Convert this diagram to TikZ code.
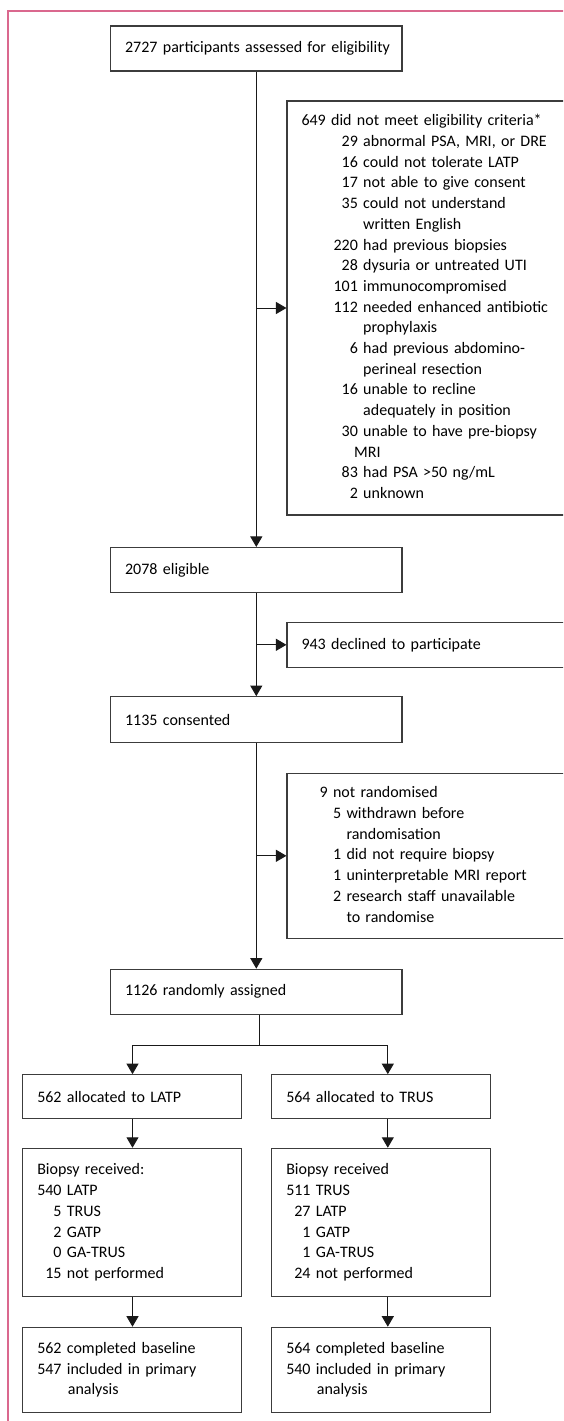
\documentclass[tikz,border=0pt]{standalone}
\usepackage{fontspec}
\setmainfont{Carlito}
\usepackage{array}
\usepackage{xcolor}
\usetikzlibrary{arrows.meta,positioning}
\definecolor{framepink}{RGB}{218,104,142}
\definecolor{boxgray}{RGB}{60,60,60}
\newcolumntype{R}[1]{>{\raggedleft\arraybackslash}p{#1}}

\begin{document}
\begin{tikzpicture}[
    x=1pt, y=-1pt,
    >={Triangle[length=10.5pt,width=12pt]},
    every node/.style={font=\fontsize{16}{20.7}\selectfont},
    mainbox/.style={draw=boxgray, line width=1.1pt, text width=262.4pt, minimum height=45pt, inner xsep=14.5pt, inner ysep=0pt, align=left},
    sidebox/.style={mainbox, text width=259pt},
    armbox/.style={mainbox, text width=189.5pt},
    link/.style={draw=black!90, line width=1pt}
]
\useasboundingbox (0,0) rectangle (563,1421);
\clip (0,0) rectangle (563,1421);

% page frame
\draw[framepink, line width=1.2pt] (8,1430) -- (8,11) -- (575,11);

% screening
\node[mainbox] (assess) at (256.3,48.5) {\mbox{2727 participants assessed for eligibility}};
\node[sidebox, minimum height=414pt] (excl) at (431,308) {%
\begin{tabular}{@{}R{56.4pt}@{\ }l@{}}
\multicolumn{2}{@{}l@{}}{649 did not meet eligibility criteria*}\\
29 & abnormal PSA, MRI, or DRE\\
16 & could not tolerate LATP\\
17 & not able to give consent\\
35 & could not understand\\
 & written English\\
220 & had previous biopsies\\
28 & dysuria or untreated UTI\\
101 & immunocompromised\\
112 & needed enhanced antibiotic\\
 & prophylaxis\\
6 & had previous abdomino-\\
 & perineal resection\\
16 & unable to recline\\
 & adequately in position\\
30 & unable to have pre-biopsy\\
 & \hspace*{-9pt}MRI\\
83 & had PSA >50 ng/mL\\
2 & unknown
\end{tabular}};
\node[mainbox] (elig) at (256.3,570) {2078 eligible};
\node[sidebox] (decl) at (431,644.8) {943 declined to participate};
\node[mainbox, minimum height=46pt] (cons) at (256.3,719.7) {1135 consented};
\node[sidebox, minimum height=165pt] (notr) at (431,855.8) {%
\begin{tabular}{@{}R{39.7pt}@{\ }l@{}}
\multicolumn{2}{@{\hspace*{18.1pt}}l@{}}{9 not randomised}\\
5 & withdrawn before\\
 & randomisation\\
1 & did not require biopsy\\
1 & uninterpretable MRI report\\
2 & research staff unavailable\\
 & to randomise
\end{tabular}};
\node[mainbox] (rand) at (256.3,991.7) {1126 randomly assigned};

% trial arms
\node[armbox, minimum height=44pt] (latp) at (132,1096.7) {562 allocated to LATP};
\node[armbox, minimum height=44pt] (trus) at (381,1096.7) {564 allocated to TRUS};
\node[armbox, minimum height=148.4pt] (latpbx) at (132,1222.5) {%
\begin{tabular}{@{}r@{\ }l@{}}
\multicolumn{2}{@{}l@{}}{Biopsy received:}\\
540 & LATP\\
5 & TRUS\\
2 & GATP\\
0 & GA-TRUS\\
15 & not performed
\end{tabular}};
\node[armbox, minimum height=148.4pt] (trusbx) at (381,1222.5) {%
\begin{tabular}{@{}r@{\ }l@{}}
\multicolumn{2}{@{}l@{}}{Biopsy received}\\
511 & TRUS\\
27 & LATP\\
1 & GATP\\
1 & GA-TRUS\\
24 & not performed
\end{tabular}};
\node[armbox, minimum height=85.5pt] (latpend) at (132,1370) {562 completed baseline\\547 included in primary\\\hspace*{30.6pt}analysis};
\node[armbox, minimum height=85.5pt] (trusend) at (381,1370) {564 completed baseline\\540 included in primary\\\hspace*{30.6pt}analysis};

\coordinate (split) at (259.6,1045);
\coordinate (lcol) at (132.5,1045);
\coordinate (rcol) at (387.8,1045);

\draw[link, ->] (assess) -- (elig);
\draw[link, ->] (assess.south |- excl.west) -- (excl.west);
\draw[link, ->] (elig) -- (cons);
\draw[link, ->] (elig.south |- decl.west) -- (decl.west);
\draw[link, ->] (cons) -- (rand);
\draw[link, ->] (cons.south |- notr.west) -- (notr.west);

\draw[link] (rand.south -| split) -- (split);
\draw[link, ->] (split) -| (latp.north -| lcol);
\draw[link, ->] (split) -| (trus.north -| rcol);
\draw[link, ->] (latp.south -| lcol) -- (latpbx.north -| lcol);
\draw[link, ->] (trus.south -| rcol) -- (trusbx.north -| rcol);
\draw[link, ->] (latpbx.south -| lcol) -- (latpend.north -| lcol);
\draw[link, ->] (trusbx.south -| rcol) -- (trusend.north -| rcol);
\end{tikzpicture}
\end{document}
